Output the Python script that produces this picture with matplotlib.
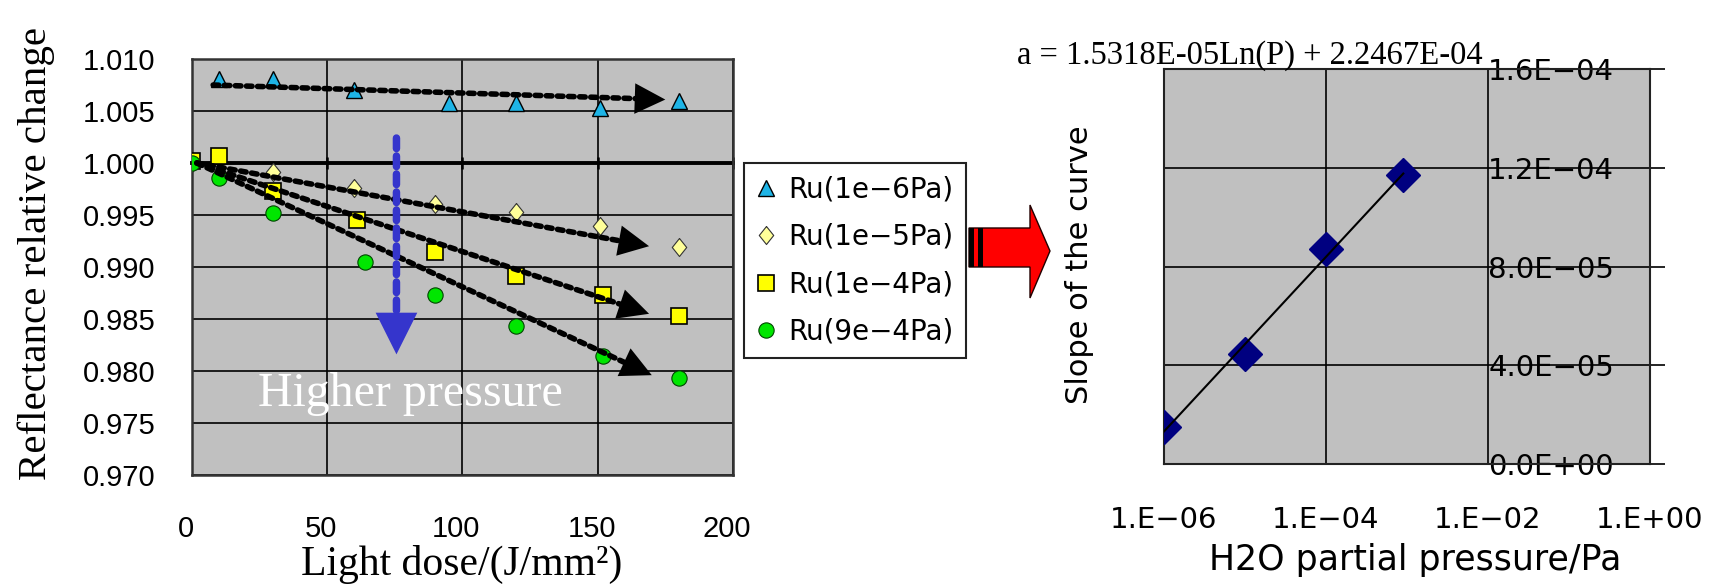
import numpy as np
import matplotlib
matplotlib.use('Agg')
import matplotlib.pyplot as plt
from matplotlib.patches import Polygon, Rectangle
from matplotlib.ticker import NullLocator
from matplotlib.transforms import ScaledTranslation

plt.rcParams['font.family'] = 'Liberation Sans'

# ---- left chart: reflectance vs light dose ----
dose_6 = [10, 30, 60, 95, 120, 151, 180]
refl_6 = [1.0081, 1.0081, 1.0070, 1.0058, 1.0058, 1.0053, 1.0060]
dose_5 = [0, 30, 60, 90, 120, 151, 180]
refl_5 = [1.0000, 0.9991, 0.9976, 0.9961, 0.9953, 0.9939, 0.9919]
dose_4 = [0, 10, 30, 61, 90, 120, 152, 180]
refl_4 = [1.0002, 1.0007, 0.9973, 0.9945, 0.9914, 0.9891, 0.9873, 0.9853]
dose_9 = [0, 10, 30, 64, 90, 120, 152, 180]
refl_9 = [1.0000, 0.9986, 0.9952, 0.9905, 0.9873, 0.9843, 0.9814, 0.9793]
series_labels = ['Ru(1e\u22126Pa)', 'Ru(1e\u22125Pa)', 'Ru(1e\u22124Pa)', 'Ru(9e\u22124Pa)']

# dotted trend arrows (start x, start y, end x, end y)
trend_x0 = [8, 2, 2, 2]
trend_y0 = [1.0075, 1.0000, 1.0000, 1.0000]
trend_x1 = [175, 169, 169, 170]
trend_y1 = [1.0061, 0.9920, 0.9855, 0.9796]

# "higher pressure" arrow
hp_x = 75.7
hp_y0, hp_y1 = 1.0024, 0.9816

dose_ticks = [0, 50, 100, 150, 200]
refl_ticks = [0.970, 0.975, 0.980, 0.985, 0.990, 0.995, 1.000, 1.005, 1.010]

# ---- right chart: slope vs H2O partial pressure ----
pressure = [1e-6, 1e-5, 1e-4, 9e-4]
slope = [1.48e-5, 4.46e-5, 8.70e-5, 1.169e-4]
p_ticks = [1e-6, 1e-4, 1e-2, 1e0]
p_labels = ['1.E\u221206', '1.E\u221204', '1.E\u221202', '1.E+00']
s_ticks = [0, 4e-5, 8e-5, 1.2e-4, 1.6e-4]
s_labels = ['0.0E+00', '4.0E\u221205', '8.0E\u221205', '1.2E\u221204', '1.6E\u221204']
fit_text = 'a = 1.5318E-05Ln(P) + 2.2467E-04'

W, H = 1725, 585
fig = plt.figure(figsize=(W / 100, H / 100), dpi=100)


def fx(px):
    return px / W


def fy(py):
    return 1 - py / H


# ================= left =================
ax1 = fig.add_axes([fx(191.5), fy(475), (733 - 191.5) / W, (475 - 59) / H])
ax1.set_facecolor('#c0c0c0')
ax1.set_xlim(0, 200)
ax1.set_ylim(0.970, 1.010)
ax1.set_xticks(dose_ticks)
ax1.set_yticks(refl_ticks)
ax1.set_yticklabels([f'{v:.3f}' for v in refl_ticks])
ax1.grid(True, color='black', lw=1.2)
ax1.set_axisbelow(True)
ax1.tick_params(axis='both', length=0, labelsize=21)
ax1.tick_params(axis='y', pad=26)
ax1.tick_params(axis='x', pad=29)
for sp in ax1.spines.values():
    sp.set_linewidth(1.8)
    sp.set_color('#333333')
for lbl in ax1.get_xticklabels():
    lbl.set_transform(lbl.get_transform() + ScaledTranslation(-0.06, 0, fig.dpi_scale_trans))

# excel style axis crossing at 1.000
sec = ax1.secondary_xaxis((1.0 - 0.970) / 0.040)
sec.set_xticks(dose_ticks[1:])
sec.tick_params(axis='x', direction='inout', length=9, width=1.8, labeltop=False, labelbottom=False)
for sp in sec.spines.values():
    sp.set_linewidth(2.8)
    sp.set_color('black')

h6, = ax1.plot(dose_6, refl_6, ls='none', marker='^', ms=12, mfc='#1eb4e6', mec='black', mew=1, zorder=3)
dia = [(0, 1), (0.8, 0), (0, -1), (-0.8, 0), (0, 1)]
h5, = ax1.plot(dose_5, refl_5, ls='none', marker=dia, ms=13, mfc='#ffff99', mec='#333333', mew=0.8, zorder=3)
h4, = ax1.plot(dose_4, refl_4, ls='none', marker='s', ms=11, mfc='#ffff00', mec='black', mew=1.2, zorder=3)
h9, = ax1.plot(dose_9, refl_9, ls='none', marker='o', ms=11, mfc='#00e600', mec='#004400', mew=0.8, zorder=3)

for xs, ys, xe, ye in zip(trend_x0, trend_y0, trend_x1, trend_y1):
    ax1.annotate('', xy=(xe, ye), xytext=(xs, ys),
                 arrowprops=dict(arrowstyle='-', color='black', lw=4, ls=(0, (1.0, 1.0)),
                                 shrinkA=0, shrinkB=14), zorder=4)
    ax1.annotate('', xy=(xe, ye), xytext=(xs, ys),
                 arrowprops=dict(arrowstyle='-|>,head_length=1.0,head_width=0.5', color='black',
                                 lw=0, mutation_scale=22, shrinkA=0, shrinkB=0), zorder=4)

ax1.annotate('', xy=(hp_x, hp_y1), xytext=(hp_x, hp_y0),
             arrowprops=dict(arrowstyle='-', color='#3535cc', lw=5.4, ls=(0, (1.4, 1.0)),
                             shrinkA=0, shrinkB=28), zorder=5)
ax1.annotate('', xy=(hp_x, hp_y1), xytext=(hp_x, hp_y0),
             arrowprops=dict(arrowstyle='-|>,head_length=1.0,head_width=0.5', color='#3535cc',
                             lw=0, mutation_scale=30, shrinkA=0, shrinkB=0), zorder=5)
ax1.text(81, 0.9778, 'Higher pressure', family='Liberation Serif', size=34.5, color='white',
         ha='center', va='center', zorder=6)

fig.text(fx(36), fy(253), 'Reflectance relative change', family='Liberation Serif', size=29.5,
         rotation=90, ha='center', va='center')
fig.text(fx(462), fy(564), 'Light dose/(J/mm\u00b2)', family='Liberation Serif', size=30,
         ha='center', va='center')

leg = ax1.legend([h6, h5, h4, h9], series_labels, loc='upper left',
                 bbox_to_anchor=(fx(744), fy(163)), bbox_transform=fig.transFigure,
                 borderaxespad=0, frameon=True, fancybox=False, framealpha=1,
                 edgecolor='#222222', borderpad=0.45, handlelength=0.7, handletextpad=0.45,
                 labelspacing=0.7, numpoints=1, prop={'family': 'DejaVu Sans', 'size': 20})
leg.get_frame().set_linewidth(1.5)

# ================= red arrow =================
arrow_px = [(969, 228), (1030, 228), (1030, 205), (1050, 251), (1030, 298), (1030, 267), (969, 267)]
fig.patches.append(Polygon([(fx(x), fy(y)) for x, y in arrow_px], closed=True, facecolor='#ff0000',
                           edgecolor='#220000', lw=1, transform=fig.transFigure, figure=fig))
for x0 in (969, 978):
    fig.patches.append(Rectangle((fx(x0), fy(267)), 5 / W, 39 / H, facecolor='black', edgecolor='none',
                                 transform=fig.transFigure, figure=fig))

# ================= right =================
ax2 = fig.add_axes([fx(1164), fy(464), (1650 - 1164) / W, (464 - 69) / H])
ax2.set_facecolor('#c0c0c0')
ax2.set_xscale('log')
ax2.set_xlim(1e-6, 1)
ax2.set_ylim(0, 1.6e-4)
ax2.set_xticks(p_ticks)
ax2.set_xticklabels(p_labels)
ax2.xaxis.set_minor_locator(NullLocator())
ax2.set_yticks(s_ticks)
ax2.set_yticklabels(s_labels)
ax2.grid(True, color='black', lw=1.2)
ax2.set_axisbelow(True)
ax2.tick_params(axis='x', length=0, pad=30, labelsize=21)
ax2.tick_params(axis='y', left=False, right=True, labelleft=False, labelright=True,
                direction='out', length=11, width=1.2, pad=-37, labelsize=21)
for lbl in ax2.get_xticklabels() + ax2.get_yticklabels():
    lbl.set_fontfamily('DejaVu Sans')
for lbl in ax2.get_yticklabels():
    lbl.set_ha('right')
for sp in ax2.spines.values():
    sp.set_linewidth(1.5)
    sp.set_color('#222222')

ax2.plot(pressure, slope, ls='none', marker='D', ms=17.5, color='#000080', zorder=3)
coef = np.polyfit(np.log(pressure), slope, 1)
p_line = np.array([pressure[0], pressure[-1]])
ax2.plot(p_line, coef[0] * np.log(p_line) + coef[1], color='black', lw=1.5, zorder=4)

fig.text(fx(1250), fy(56), fit_text, family='Liberation Serif', size=23.5, ha='center', va='center')
fig.text(fx(1080), fy(265), 'Slope of the curve', family='DejaVu Sans', size=22,
         rotation=90, ha='center', va='center')
fig.text(fx(1415), fy(560), 'H2O partial pressure/Pa', family='DejaVu Sans', size=25,
         ha='center', va='center')

fig.savefig('out.png', dpi=100)
